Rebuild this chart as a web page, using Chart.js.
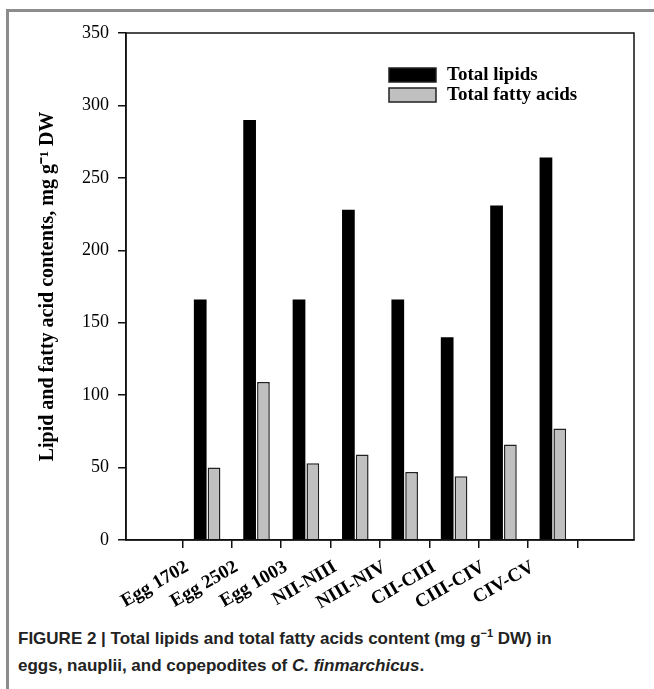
<!DOCTYPE html>
<html>
<head>
<meta charset="utf-8">
<script src="https://cdn.jsdelivr.net/npm/chart.js@4/dist/chart.umd.min.js"></script>
<style>
  html, body { margin: 0; padding: 0; background: #fff; }
  #wrap { position: relative; width: 654px; height: 689px; overflow: hidden; }
  #frame { position: absolute; left: 6px; top: 9px; right: 0; bottom: 0; border-top: 3px solid #8c8c8c; border-left: 3px solid #8c8c8c; }
  #chart { position: absolute; left: 0; top: 0; }
  #caption { position: absolute; left: 18px; top: 625px; width: 572px; font-family: "Liberation Sans", Arial, sans-serif; font-size: 17px; font-weight: bold; color: #222; line-height: 27px; }
  #caption sup { font-size: 11px; line-height: 0; }
</style>
</head>
<body>
<div id="wrap">
  <div id="frame"></div>
  <canvas id="chart" width="654" height="620"></canvas>
  <div id="caption">FIGURE 2 | Total lipids and total fatty acids content (mg g<sup>−1</sup> DW) in eggs, nauplii, and copepodites of <i>C. finmarchicus</i>.</div>
</div>
<script>
// stages sampled
const categories = ["Egg 1702", "Egg 2502", "Egg 1003", "NII-NIII", "NIII-NIV", "CII-CIII", "CIII-CIV", "CIV-CV"];
// mg g-1 DW
const totalLipids = [166, 290, 166, 228, 166, 140, 231, 264];
const totalFattyAcids = [50, 109, 53, 59, 47, 44, 66, 77];
const seriesNames = ["Total lipids", "Total fatty acids"];
const yTicks = [0, 50, 100, 150, 200, 250, 300, 350];

const serif = "'Liberation Serif', 'Times New Roman', serif";
const toPoints = arr => arr.map((v, i) => ({ x: i + 1, y: v }));

// box round the plot area
const frameBox = {
  id: "frameBox",
  afterDraw(chart) {
    const { ctx, chartArea: a } = chart;
    ctx.save();
    ctx.strokeStyle = "#111";
    ctx.lineWidth = 1.5;
    ctx.strokeRect(a.left, a.top, a.right - a.left, a.bottom - a.top);
    ctx.restore();
  }
};

// legend inside the plot, upper right
const innerLegend = {
  id: "innerLegend",
  afterDraw(chart) {
    const { ctx, chartArea: a } = chart;
    const x = a.left + 263, y0 = a.top + 35;
    ctx.save();
    ctx.font = "bold 19px " + serif;
    ctx.textBaseline = "middle";
    chart.data.datasets.forEach((ds, i) => {
      const y = y0 + i * 20;
      ctx.fillStyle = ds.backgroundColor;
      ctx.fillRect(x, y, 47, 14);
      ctx.strokeStyle = "#222";
      ctx.lineWidth = 1.5;
      ctx.strokeRect(x, y, 47, 14);
      ctx.fillStyle = "#000";
      ctx.fillText(ds.label, x + 58, y + 7);
    });
    ctx.restore();
  }
};

new Chart(document.getElementById("chart"), {
  type: "bar",
  data: {
    datasets: [
      { label: seriesNames[0], data: toPoints(totalLipids), backgroundColor: "#000", borderWidth: 0 },
      { label: seriesNames[1], data: toPoints(totalFattyAcids), backgroundColor: "#c0c0c0", borderColor: "#222", borderWidth: 1.5 }
    ]
  },
  options: {
    responsive: false,
    animation: false,
    categoryPercentage: 0.56,
    barPercentage: 0.92,
    layout: { padding: { top: 33, right: 20, left: 0, bottom: 0 } },
    plugins: { legend: { display: false }, tooltip: { enabled: false } },
    scales: {
      x: {
        type: "linear",
        min: 0,
        max: categories.length + 1,
        afterBuildTicks: s => { s.ticks = categories.map((_, i) => ({ value: i + 1 })); },
        afterFit: s => { s.height = 80; },
        grid: { display: true, drawOnChartArea: false, drawTicks: true, tickLength: 8, color: "#111", lineWidth: 1.5 },
        border: { display: true, color: "#111", width: 1.5 },
        ticks: {
          autoSkip: false,
          maxRotation: 30,
          minRotation: 30,
          padding: 8,
          labelOffset: -20,
          color: "#000",
          font: { family: serif, size: 19, weight: "bold" },
          callback: v => categories[v - 1]
        }
      },
      y: {
        min: 0,
        max: 350,
        afterBuildTicks: s => { s.ticks = yTicks.map(v => ({ value: v })); },
        afterFit: s => { s.width = 126; },
        grid: { display: true, drawOnChartArea: false, drawTicks: true, tickLength: 8, color: "#111", lineWidth: 1.5 },
        border: { display: true, color: "#111", width: 1.5 },
        ticks: { padding: 9, color: "#000", font: { family: serif, size: 18 } },
        title: {
          display: true,
          text: "Lipid and fatty acid contents, mg g⁻¹ DW",
          color: "#000",
          font: { family: serif, size: 20, weight: "bold" },
          padding: { top: 36, bottom: 0 }
        }
      }
    }
  },
  plugins: [frameBox, innerLegend]
});
</script>
</body>
</html>
